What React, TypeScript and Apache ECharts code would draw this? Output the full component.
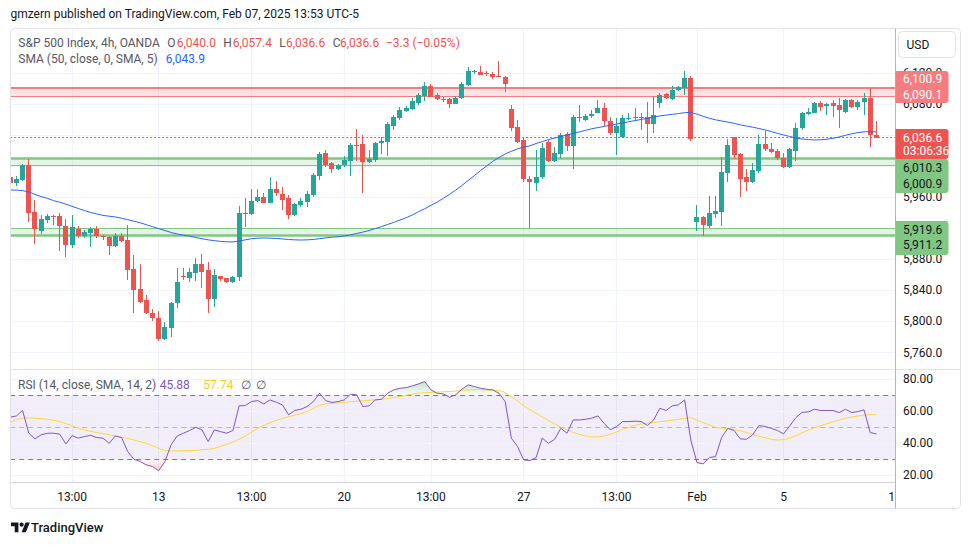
import React, { useEffect, useRef } from "react";
import * as echarts from "echarts";

// ---------- DATA (4h bars, index 0..140) ----------
const OPEN = [5986.0, 5977.7, 5982.0, 6001.3, 5941.3, 5916.8, 5930.5, 5936.2, 5935.3, 5922.8,
  5898.4, 5919.0, 5910.4, 5914.2, 5918.5, 5910.4, 5909.0, 5897.0, 5910.0, 5904.8,
  5867.5, 5841.7, 5827.6, 5811.3, 5804.0, 5777.0, 5792.0, 5823.3, 5858.0, 5856.4,
  5862.8, 5874.0, 5866.2, 5828.9, 5858.5, 5855.5, 5851.2, 5856.8, 5939.0, 5938.7,
  5955.0, 5960.6, 5952.9, 5970.5, 5964.0, 5958.9, 5937.0, 5949.9, 5953.8, 5963.2,
  5987.6, 6016.4, 6003.5, 5996.6, 6000.9, 6007.0, 6027.5, 6028.4, 6005.7, 6007.8,
  6029.2, 6031.4, 6052.0, 6062.3, 6071.3, 6073.4, 6080.7, 6090.2, 6103.0, 6091.5,
  6085.5, 6086.3, 6079.9, 6087.2, 6104.3, 6121.5, 6121.0, 6119.6, 6118.5, 6116.3,
  6115.0, 6073.4, 6050.7, 6033.5, 5982.9, 5978.6, 5985.5, 6031.4, 6007.0, 6015.5,
  6041.3, 6025.8, 6061.8, 6059.3, 6064.9, 6068.7, 6074.3, 6058.0, 6043.0, 6037.8,
  6061.0, 6062.0, 6062.5, 6062.7, 6054.1, 6081.6, 6092.7, 6086.3, 6097.9, 6100.0,
  6112.9, 5928.4, 5934.9, 5923.3, 5938.7, 5941.3, 5991.5, 6037.0, 6015.5, 5985.5,
  5979.9, 5994.0, 6028.4, 6022.0, 6019.4, 6010.0, 5998.4, 6019.8, 6048.6, 6067.0,
  6068.7, 6081.6, 6077.3, 6080.7, 6078.6, 6070.0, 6085.0, 6076.4, 6082.0, 6088.0,
  6040.0];
const HIGH = [5990.6, 5987.2, 6002.6, 6008.6, 5956.3, 5937.0, 5938.3, 5936.8, 5940.0, 5931.4,
  5937.0, 5922.8, 5917.7, 5921.0, 5922.8, 5910.8, 5910.0, 5913.4, 5913.4, 5923.7,
  5885.5, 5874.0, 5834.0, 5815.6, 5813.8, 5799.7, 5825.0, 5868.3, 5868.3, 5868.4,
  5881.3, 5886.8, 5877.0, 5867.5, 5858.5, 5856.0, 5858.5, 5948.6, 5958.5, 5970.0,
  5970.5, 5965.8, 5985.5, 5981.2, 5973.0, 5962.8, 5952.0, 5958.5, 5968.3, 5991.5,
  6018.5, 6020.7, 6005.7, 6002.6, 6013.0, 6029.3, 6047.7, 6040.0, 6020.7, 6031.4,
  6037.0, 6057.1, 6065.7, 6075.6, 6077.3, 6088.0, 6093.6, 6108.2, 6105.6, 6093.6,
  6089.3, 6087.2, 6090.2, 6108.2, 6127.9, 6123.6, 6128.8, 6122.3, 6121.5, 6135.2,
  6115.9, 6078.6, 6059.3, 6037.0, 5987.2, 6020.7, 6029.3, 6033.5, 6024.1, 6043.0,
  6044.0, 6065.7, 6078.6, 6067.0, 6072.2, 6085.0, 6080.7, 6063.6, 6061.4, 6065.7,
  6067.8, 6074.3, 6067.8, 6082.9, 6090.2, 6093.6, 6094.5, 6103.0, 6103.0, 6122.3,
  6115.9, 5949.9, 5936.0, 5961.5, 5961.5, 6011.2, 6034.8, 6037.0, 6017.0, 5996.2,
  6003.5, 6040.0, 6045.1, 6030.1, 6021.5, 6016.4, 6022.8, 6055.9, 6070.0, 6075.2,
  6082.5, 6084.2, 6080.7, 6085.0, 6087.2, 6085.9, 6086.3, 6085.0, 6093.6, 6100.0,
  6057.4];
const LOW = [5975.6, 5974.7, 5980.7, 5928.4, 5899.7, 5912.5, 5927.1, 5924.0, 5891.0, 5883.3,
  5895.0, 5907.0, 5907.0, 5895.4, 5907.0, 5905.0, 5885.5, 5896.0, 5902.7, 5853.3,
  5810.4, 5823.3, 5809.5, 5801.0, 5775.2, 5776.0, 5780.4, 5817.7, 5853.5, 5851.2,
  5852.5, 5842.6, 5811.3, 5818.2, 5852.5, 5850.0, 5849.1, 5852.5, 5922.0, 5937.0,
  5954.2, 5952.0, 5952.0, 5962.0, 5943.4, 5932.3, 5936.0, 5946.9, 5947.7, 5960.0,
  5982.0, 5998.4, 5990.6, 5994.9, 5999.0, 5987.6, 6007.0, 5964.9, 6004.4, 6005.7,
  6015.5, 6013.0, 6046.4, 6059.3, 6070.0, 6072.1, 6079.0, 6084.0, 6088.5, 6085.0,
  6082.9, 6075.2, 6079.4, 6085.9, 6103.0, 6118.5, 6117.2, 6115.9, 6112.5, 6114.2,
  6095.7, 6045.1, 6029.2, 5979.9, 5920.0, 5968.3, 5983.0, 6005.0, 6005.7, 6010.0,
  6019.8, 5996.2, 6057.1, 6058.0, 6061.4, 6067.8, 6052.0, 6040.0, 6014.2, 6035.7,
  6059.0, 6058.0, 6046.4, 6030.1, 6043.0, 6074.3, 6085.9, 6085.0, 6097.0, 6091.5,
  6032.7, 5916.4, 5910.0, 5919.9, 5933.6, 5923.3, 5979.9, 6009.1, 5960.6, 5968.3,
  5977.8, 5991.5, 6019.8, 6017.2, 6008.0, 5997.0, 5997.0, 6007.0, 6046.0, 6066.0,
  6068.0, 6071.3, 6065.7, 6063.6, 6048.6, 6068.0, 6075.0, 6072.2, 6065.7, 6024.1,
  6036.6];
const CLOSE = [5977.7, 5983.3, 6001.3, 5940.0, 5918.5, 5932.3, 5935.7, 5934.5, 5923.2, 5898.4,
  5922.0, 5910.4, 5915.5, 5918.5, 5910.0, 5908.2, 5897.0, 5910.0, 5904.0, 5866.2,
  5840.5, 5824.6, 5810.4, 5804.0, 5777.0, 5792.4, 5823.3, 5850.3, 5857.0, 5863.7,
  5874.0, 5863.7, 5828.9, 5859.8, 5854.6, 5850.4, 5857.2, 5939.6, 5939.9, 5955.0,
  5960.6, 5952.9, 5970.5, 5964.9, 5956.3, 5937.0, 5951.2, 5955.0, 5964.0, 5988.5,
  6015.5, 6000.9, 5996.2, 6000.9, 6007.8, 6027.1, 6026.5, 6005.7, 6008.7, 6029.2,
  6032.2, 6054.1, 6062.7, 6072.2, 6075.2, 6083.7, 6091.5, 6103.0, 6089.3, 6085.9,
  6086.5, 6080.3, 6088.0, 6105.6, 6122.3, 6122.0, 6117.6, 6119.0, 6115.0, 6114.2,
  6105.2, 6049.4, 6031.4, 5982.9, 5979.9, 5986.4, 6022.8, 6007.0, 6016.4, 6040.0,
  6025.8, 6063.6, 6063.2, 6064.4, 6067.4, 6075.2, 6058.4, 6043.0, 6052.0, 6061.4,
  6062.0, 6063.0, 6063.5, 6054.1, 6065.7, 6091.5, 6087.2, 6097.9, 6101.3, 6112.9,
  6034.4, 5934.9, 5924.1, 5939.2, 5942.2, 5992.8, 6027.1, 6014.2, 5983.3, 5979.9,
  5994.9, 6028.4, 6022.0, 6018.5, 6010.0, 5998.4, 6021.5, 6048.6, 6067.8, 6070.0,
  6081.6, 6076.4, 6079.4, 6077.7, 6072.2, 6085.0, 6076.4, 6082.0, 6088.0, 6040.0,
  6036.6];
const SMA50 = [5969.2, 5969.0, 5968.3, 5966.8, 5963.5, 5960.6, 5958.5, 5955.5, 5953.5, 5951.0,
  5948.2, 5945.3, 5942.8, 5940.2, 5938.4, 5936.5, 5935.4, 5934.5, 5932.8, 5931.0,
  5929.0, 5927.0, 5924.5, 5922.0, 5919.5, 5917.0, 5914.5, 5912.5, 5911.0, 5909.8,
  5908.0, 5906.5, 5905.0, 5904.0, 5903.0, 5902.5, 5902.3, 5903.5, 5905.0, 5906.5,
  5907.2, 5907.4, 5907.2, 5906.8, 5906.2, 5905.5, 5905.0, 5904.8, 5905.0, 5905.5,
  5906.5, 5907.5, 5908.5, 5909.0, 5910.0, 5911.5, 5913.2, 5915.0, 5917.0, 5919.5,
  5922.0, 5924.8, 5927.5, 5930.5, 5933.5, 5937.0, 5941.3, 5945.0, 5949.3, 5953.5,
  5958.5, 5963.5, 5969.0, 5975.0, 5981.2, 5987.5, 5994.0, 6000.0, 6006.0, 6011.0,
  6015.5, 6019.0, 6022.0, 6024.5, 6026.0, 6029.0, 6031.5, 6034.0, 6036.0, 6038.0,
  6040.0, 6042.0, 6044.0, 6046.0, 6048.0, 6049.5, 6051.0, 6052.5, 6054.0, 6055.5,
  6057.0, 6058.5, 6060.0, 6061.5, 6063.0, 6064.5, 6065.5, 6066.5, 6067.5, 6068.7,
  6069.0, 6066.8, 6064.0, 6061.5, 6059.5, 6058.0, 6056.5, 6055.0, 6053.0, 6051.5,
  6050.0, 6048.3, 6046.5, 6044.5, 6042.0, 6040.0, 6038.0, 6036.0, 6034.8, 6034.0,
  6033.6, 6033.8, 6034.5, 6035.7, 6037.5, 6039.5, 6041.5, 6043.0, 6044.0, 6044.3,
  6043.9];
const RSI14 = [56.3, 57.1, 60.5, 46.3, 42.8, 45.3, 46.3, 46.3, 45.7, 39.6,
  44.8, 43.2, 44.2, 45.0, 43.6, 43.2, 40.0, 44.6, 43.6, 34.8,
  30.0, 28.6, 26.5, 25.5, 22.8, 28.6, 39.0, 44.6, 46.3, 48.0,
  50.0, 48.4, 41.1, 48.4, 47.3, 46.3, 48.0, 63.4, 63.6, 66.1,
  66.7, 64.6, 67.1, 65.7, 64.0, 57.8, 60.5, 61.3, 63.0, 66.1,
  71.3, 66.7, 65.5, 66.1, 67.1, 70.7, 70.3, 63.0, 63.4, 67.1,
  67.5, 71.3, 73.4, 74.4, 74.8, 75.9, 77.1, 78.6, 73.4, 71.3,
  70.9, 68.8, 70.3, 73.8, 76.5, 75.5, 74.4, 73.8, 73.4, 71.3,
  66.1, 43.2, 38.0, 29.6, 29.2, 31.1, 43.2, 40.0, 42.5, 49.4,
  46.3, 54.6, 54.6, 55.0, 55.7, 57.1, 52.5, 48.4, 50.5, 53.6,
  53.6, 53.8, 53.6, 51.1, 54.6, 61.9, 60.5, 63.4, 64.0, 67.1,
  42.1, 28.0, 27.1, 31.1, 31.7, 43.8, 49.4, 48.0, 42.8, 42.5,
  45.3, 51.1, 50.5, 49.4, 48.0, 45.9, 50.9, 56.1, 59.4, 59.6,
  61.3, 60.5, 60.5, 60.5, 59.2, 61.3, 59.2, 59.8, 60.9, 46.7,
  45.88];
const RSI_MA = [53.0, 54.8, 55.7, 55.9, 55.7, 55.4, 55.0, 54.4, 53.6, 52.3,
  50.9, 49.6, 48.4, 47.5, 46.7, 46.0, 45.3, 44.5, 43.8, 43.0,
  42.1, 41.0, 40.0, 38.5, 36.9, 35.5, 35.2, 35.2, 35.4, 35.5,
  35.6, 36.0, 36.2, 36.8, 38.0, 39.4, 40.8, 42.6, 44.6, 47.0,
  49.3, 51.2, 52.8, 54.3, 55.5, 56.6, 57.6, 58.6, 60.0, 61.8,
  63.8, 64.6, 65.0, 65.3, 65.6, 66.0, 66.3, 66.6, 66.9, 67.2,
  67.5, 68.0, 68.6, 69.3, 70.0, 70.8, 71.3, 71.6, 71.8, 72.0,
  72.2, 72.4, 72.6, 73.0, 73.3, 73.5, 73.5, 73.4, 73.2, 73.0,
  71.8, 69.0, 66.5, 63.5, 61.0, 58.8, 56.5, 54.2, 52.2, 50.0,
  48.4, 46.8, 45.5, 44.6, 43.9, 44.0, 44.6, 45.6, 47.0, 48.8,
  50.0, 51.2, 52.0, 52.6, 53.1, 53.5, 53.9, 54.4, 55.0, 55.6,
  56.0, 54.5, 53.0, 51.5, 50.0, 49.5, 49.0, 48.5, 47.8, 46.8,
  45.5, 44.5, 43.5, 42.5, 42.0, 42.3, 43.2, 44.8, 46.6, 48.2,
  49.8, 51.0, 52.2, 53.4, 54.6, 55.6, 56.4, 57.1, 57.6, 57.9,
  57.74];

const SLOT_COUNT = 144; // bars + empty right margin slots
const TIME_LABELS: Record<number, string> = {
  10: "13:00", 24: "13", 39: "13:00", 54: "20", 68: "13:00",
  83: "27", 98: "13:00", 111: "Feb", 125: "5", 143: "10",
};
// price ticks whose labels are not covered by the price tags
const PRICE_TICKS = [5760, 5800, 5840, 5880, 5920, 5960, 6000, 6040, 6080, 6120];
const PRICE_LABELS_HIDDEN = [5920, 6000, 6040];
const RSI_TICKS = [20, 40, 60, 80];
const RESISTANCE = [6090.1, 6100.9];
const SUPPORT_HIGH = [6000.9, 6010.3];
const SUPPORT_LOW = [5911.2, 5919.6];
const LAST_OHLC = [6040.0, 6057.4, 6036.6, 6036.6];
const LAST_CHANGE = [-3.3, -0.05];
const SMA_LAST = 6043.9;
const RSI_LAST = [45.88, 57.74];
const COUNTDOWN = "03:06:36";

// ---------- STYLE ----------
const FONT = "Roboto, 'Noto Sans', sans-serif";
const UP = "#26a69a";
const DOWN = "#ef5350";
const GRID_COLOR = "#f0f3fa";
const TEXT = "#131722";
const MUTED = "#555862";
const GRID_LEFT = 10.2;
const SLOT = 6.187;
const GRID_W = SLOT * (SLOT_COUNT - 1);

const fmt = (v: number) => {
  const s = Math.abs(v).toFixed(1);
  const [a, b] = s.split(".");
  return (v < 0 ? "\u2212" : "") + a.replace(/\B(?=(\d{3})+(?!\d))/g, ",") + "." + b;
};

echarts.graphic.registerShape(
  "tvlogo",
  echarts.graphic.extendPath(
    "M14 22H7V11H0V4h14v18zM28 22h-8l7.5-18h8L28 22zM24 8a4 4 0 1 1-8 0a4 4 0 1 1 8 0z",
    {}
  ) as any
);

function renderCandle(_params: any, api: any) {
  const i = api.value(0);
  const o = api.value(1);
  const c = api.value(2);
  const l = api.value(3);
  const h = api.value(4);
  const po = api.coord([i, o]);
  const pc = api.coord([i, c]);
  const pl = api.coord([i, l]);
  const ph = api.coord([i, h]);
  const color = c >= o ? UP : DOWN;
  const cx = Math.round(po[0] - 0.5);
  const top = Math.round(Math.min(po[1], pc[1]));
  const bot = Math.round(Math.max(po[1], pc[1]));
  const bh = Math.max(bot - top, 1);
  return {
    type: "group",
    children: [
      { type: "rect", shape: { x: cx, y: Math.round(ph[1]), width: 1, height: Math.max(Math.round(pl[1]) - Math.round(ph[1]), 1) }, style: { fill: color } },
      { type: "rect", shape: { x: cx - 2, y: top, width: 5, height: bh }, style: { fill: color } },
    ],
  };
}

const txt = (x: number, y: number, text: string, fill: string, size = 12, weight: any = "normal") => ({
  type: "text",
  x,
  y,
  z: 100,
  silent: true,
  style: {
    text,
    fill,
    fontSize: size,
    fontFamily: FONT,
    fontWeight: weight,
    align: "left",
    verticalAlign: "middle",
  },
});

function buildOption() {
  const cats = Array.from({ length: SLOT_COUNT }, (_, i) => String(i));
  const isLabel = (idx: number) => Object.prototype.hasOwnProperty.call(TIME_LABELS, idx);
  const isGrid = (idx: number) => isLabel(idx) && idx < SLOT_COUNT - 1;

  const baseX = (gridIndex: number) => ({
    type: "category",
    gridIndex,
    data: cats,
    boundaryGap: false,
    axisLine: { show: false },
    axisTick: { show: false },
    axisLabel: { show: false },
    splitLine: { show: false },
    axisPointer: { show: false },
  });

  const candleData = OPEN.map((o, i) => [i, o, CLOSE[i], LOW[i], HIGH[i]]);
  const obBase = RSI14.map(() => 70);
  const obTop = RSI14.map((r) => Math.max(r, 70) - 70);
  const osBase = RSI14.map((r) => Math.min(r, 30));
  const osTop = RSI14.map((r) => 30 - Math.min(r, 30));

  const lvlLine = (v: number, color: string, width: number) => ({
    yAxis: v,
    lineStyle: { color, width, type: "solid" },
  });

  const showPriceLabel = (v: number) =>
    PRICE_TICKS.some((t) => Math.abs(t - v) < 0.01) && !PRICE_LABELS_HIDDEN.some((t) => Math.abs(t - v) < 0.01);

  return {
    animation: false,
    backgroundColor: "#ffffff",
    textStyle: { fontFamily: FONT },
    grid: [
      { left: GRID_LEFT, width: GRID_W, top: 28.5, height: 341 }, // price frame (vertical grid lines)
      { left: GRID_LEFT, width: GRID_W, top: 10.64, height: 372.96 }, // price scale 5720..6200
      { left: GRID_LEFT, width: GRID_W, top: 347.3, height: 160 }, // rsi scale 0..100
      { left: GRID_LEFT, width: GRID_W, top: 370, height: 112.7 }, // time axis + rsi vertical grid
    ],
    xAxis: [
      { ...baseX(0), splitLine: { show: true, interval: (i: number) => isGrid(i), lineStyle: { color: GRID_COLOR, width: 1 } } },
      baseX(1),
      baseX(2),
      {
        ...baseX(3),
        axisLine: { show: true, lineStyle: { color: "#d1d4dc", width: 1 } },
        axisLabel: {
          show: true,
          interval: (i: number) => isLabel(i),
          formatter: (_v: string, i: number) => TIME_LABELS[i] ?? "",
          color: TEXT,
          fontSize: 12,
          fontFamily: FONT,
          margin: 8,
        },
        splitLine: { show: true, interval: (i: number) => isGrid(i), lineStyle: { color: GRID_COLOR, width: 1 } },
      },
    ],
    yAxis: [
      { type: "value", gridIndex: 0, min: 0, max: 1, show: false },
      {
        type: "value",
        gridIndex: 1,
        position: "right",
        min: 5720,
        max: 6200,
        interval: 40,
        axisLine: { show: false },
        axisTick: { show: false },
        splitLine: { show: false },
        axisLabel: {
          color: TEXT,
          fontSize: 12,
          fontFamily: FONT,
          margin: 8,
          formatter: (v: number) => (showPriceLabel(v) ? fmt(v) : ""),
        },
      },
      {
        type: "value",
        gridIndex: 2,
        position: "right",
        min: 0,
        max: 100,
        interval: 20,
        axisLine: { show: false },
        axisTick: { show: false },
        splitLine: { show: false },
        axisLabel: {
          color: TEXT,
          fontSize: 12,
          fontFamily: FONT,
          margin: 8,
          formatter: (v: number) => (RSI_TICKS.some((t) => Math.abs(t - v) < 0.01) ? v.toFixed(2) : ""),
        },
      },
      { type: "value", gridIndex: 3, min: 0, max: 1, show: false },
    ],
    series: [
      // price horizontal grid lines
      {
        type: "line",
        xAxisIndex: 1,
        yAxisIndex: 1,
        data: [],
        silent: true,
        markLine: {
          silent: true,
          symbol: ["none", "none"],
          label: { show: false },
          lineStyle: { color: GRID_COLOR, width: 1, type: "solid" },
          data: PRICE_TICKS.map((v) => ({ yAxis: v })),
        },
      },
      // support / resistance zones
      {
        type: "line",
        xAxisIndex: 1,
        yAxisIndex: 1,
        data: [],
        silent: true,
        markArea: {
          silent: true,
          data: [
            [{ yAxis: RESISTANCE[0], itemStyle: { color: "rgba(247,124,128,0.22)" } }, { yAxis: RESISTANCE[1] }],
            [{ yAxis: SUPPORT_HIGH[0], itemStyle: { color: "rgba(129,199,132,0.2)" } }, { yAxis: SUPPORT_HIGH[1] }],
            [{ yAxis: SUPPORT_LOW[0], itemStyle: { color: "rgba(129,199,132,0.2)" } }, { yAxis: SUPPORT_LOW[1] }],
          ],
        },
        markLine: {
          silent: true,
          symbol: ["none", "none"],
          label: { show: false },
          data: [
            lvlLine(RESISTANCE[1], "#f77c80", 2),
            lvlLine(RESISTANCE[0], "#f77c80", 1),
            lvlLine(SUPPORT_HIGH[1], "#81c784", 2.5),
            lvlLine(SUPPORT_HIGH[0], "#81c784", 1),
            lvlLine(SUPPORT_LOW[1], "#81c784", 1),
            lvlLine(SUPPORT_LOW[0], "#81c784", 2.5),
            { yAxis: LAST_OHLC[3], lineStyle: { color: "#ef5350", width: 1, type: [2, 2] } },
          ],
        },
      },
      {
        type: "custom",
        name: "S&P 500",
        xAxisIndex: 1,
        yAxisIndex: 1,
        data: candleData,
        encode: { x: 0, y: [1, 2, 3, 4] },
        renderItem: renderCandle,
        clip: true,
        z: 10,
      },
      {
        type: "line",
        name: "SMA 50",
        xAxisIndex: 1,
        yAxisIndex: 1,
        data: SMA50,
        symbol: "none",
        lineStyle: { color: "#2962ff", width: 1 },
        z: 11,
      },
      // RSI background & levels
      {
        type: "line",
        xAxisIndex: 2,
        yAxisIndex: 2,
        data: [],
        silent: true,
        markArea: {
          silent: true,
          data: [[{ yAxis: 30, itemStyle: { color: "rgba(126,87,194,0.1)" } }, { yAxis: 70 }]],
        },
        markLine: {
          silent: true,
          symbol: ["none", "none"],
          label: { show: false },
          data: [
            ...RSI_TICKS.map((v) => ({ yAxis: v, lineStyle: { color: GRID_COLOR, width: 1, type: "solid" } })),
            { yAxis: 70, lineStyle: { color: "#787b86", width: 1, type: [5, 4] } },
            { yAxis: 50, lineStyle: { color: "rgba(120,123,134,0.5)", width: 1, type: [5, 4] } },
            { yAxis: 30, lineStyle: { color: "#787b86", width: 1, type: [5, 4] } },
          ],
        },
      },
      { type: "line", xAxisIndex: 2, yAxisIndex: 2, stack: "ob", data: obBase, symbol: "none", lineStyle: { width: 0, opacity: 0 }, z: 6, silent: true },
      {
        type: "line", xAxisIndex: 2, yAxisIndex: 2, stack: "ob", data: obTop, symbol: "none", lineStyle: { width: 0, opacity: 0 }, z: 6, silent: true,
        areaStyle: { color: new echarts.graphic.LinearGradient(0, 0, 0, 1, [{ offset: 0, color: "rgba(76,175,80,0.45)" }, { offset: 1, color: "rgba(76,175,80,0.05)" }]) },
      },
      { type: "line", xAxisIndex: 2, yAxisIndex: 2, stack: "os", data: osBase, symbol: "none", lineStyle: { width: 0, opacity: 0 }, z: 6, silent: true },
      {
        type: "line", xAxisIndex: 2, yAxisIndex: 2, stack: "os", data: osTop, symbol: "none", lineStyle: { width: 0, opacity: 0 }, z: 6, silent: true,
        areaStyle: { color: new echarts.graphic.LinearGradient(0, 0, 0, 1, [{ offset: 0, color: "rgba(255,82,82,0.05)" }, { offset: 1, color: "rgba(255,82,82,0.4)" }]) },
      },
      { type: "line", name: "RSI MA", xAxisIndex: 2, yAxisIndex: 2, data: RSI_MA, symbol: "none", lineStyle: { color: "#fdd835", width: 1 }, z: 7 },
      { type: "line", name: "RSI", xAxisIndex: 2, yAxisIndex: 2, data: RSI14, symbol: "none", lineStyle: { color: "#7e57c2", width: 1 }, z: 8 },
    ],
    graphic: [
      // frame & separators
      { type: "rect", z: 90, silent: true, shape: { x: 10.5, y: 28.5, width: 950, height: 480, r: 4 }, style: { fill: "none", stroke: "#e0e3eb", lineWidth: 1 } },
      { type: "line", z: 90, silent: true, shape: { x1: 10.5, y1: 369.5, x2: 960, y2: 369.5 }, style: { stroke: "#e0e3eb", lineWidth: 1 } },
      { type: "rect", z: 95, silent: true, shape: { x: 895.5, y: 484, width: 64, height: 23 }, style: { fill: "#ffffff" } },
      { type: "line", z: 96, silent: true, shape: { x1: 895.5, y1: 28.5, x2: 895.5, y2: 508.5 }, style: { stroke: "#b2b5be", lineWidth: 1 } },
      // USD button
      { type: "rect", z: 100, silent: true, shape: { x: 898.5, y: 31.5, width: 57, height: 26, r: 4 }, style: { fill: "#ffffff", stroke: "#e0e3eb", lineWidth: 1 } },
      txt(906.5, 44.5, "USD", TEXT, 12),
      // price tags
      { type: "rect", z: 99, silent: true, shape: { x: 895.5, y: 71, width: 53, height: 32, r: [0, 3, 3, 0] }, style: { fill: "#f77c80" } },
      txt(903, 79, fmt(RESISTANCE[1]), "#ffffff", 12),
      txt(903, 95, fmt(RESISTANCE[0]), "#ffffff", 12),
      { type: "rect", z: 99, silent: true, shape: { x: 895.5, y: 129, width: 53, height: 30, r: [0, 3, 3, 0] }, style: { fill: "#ef5350" } },
      txt(903, 137.5, fmt(LAST_OHLC[3]), "#ffffff", 12),
      txt(903, 150.5, COUNTDOWN, "#ffffff", 12),
      { type: "rect", z: 99, silent: true, shape: { x: 895.5, y: 159, width: 53, height: 34, r: [0, 3, 3, 0] }, style: { fill: "#81c784" } },
      txt(903, 168, fmt(SUPPORT_HIGH[1]), TEXT, 12),
      txt(903, 184, fmt(SUPPORT_HIGH[0]), TEXT, 12),
      { type: "rect", z: 99, silent: true, shape: { x: 895.5, y: 221, width: 53, height: 34, r: [0, 3, 3, 0] }, style: { fill: "#81c784" } },
      txt(903, 229.5, fmt(SUPPORT_LOW[1]), TEXT, 12),
      txt(903, 244.5, fmt(SUPPORT_LOW[0]), TEXT, 12),
      // header
      txt(10.5, 14, "gmzern published on TradingView.com, Feb 07, 2025 13:53 UTC-5", TEXT, 12),
      // legend line 1
      txt(18.3, 42.5, "S&P 500 Index, 4h, OANDA", MUTED, 12),
      txt(167.3, 42.5, "O", MUTED, 12),
      txt(176.7, 42.5, fmt(LAST_OHLC[0]), DOWN, 12),
      txt(223.3, 42.5, "H", MUTED, 12),
      txt(232.7, 42.5, fmt(LAST_OHLC[1]), DOWN, 12),
      txt(279.3, 42.5, "L", MUTED, 12),
      txt(286, 42.5, fmt(LAST_OHLC[2]), DOWN, 12),
      txt(332.7, 42.5, "C", MUTED, 12),
      txt(340, 42.5, fmt(LAST_OHLC[3]), DOWN, 12),
      txt(386, 42.5, `${fmt(LAST_CHANGE[0])} (\u2212${Math.abs(LAST_CHANGE[1]).toFixed(2)}%)`, DOWN, 12),
      // legend line 2
      txt(18.3, 59, "SMA (50, close, 0, SMA, 5)", MUTED, 12),
      txt(165.7, 59, fmt(SMA_LAST), "#2962ff", 12),
      // RSI legend
      txt(18, 385, "RSI (14, close, SMA, 14, 2)", MUTED, 12),
      txt(159.7, 385, RSI_LAST[0].toFixed(2), "#7e57c2", 12),
      txt(203.3, 385, RSI_LAST[1].toFixed(2), "#f2cf1d", 12),
      txt(241, 385, "\u2205", MUTED, 12),
      txt(256, 385, "\u2205", MUTED, 12),
      // footer logo
      { type: "tvlogo", z: 100, silent: true, x: 11, y: 520.5, scaleX: 0.53, scaleY: 0.53, style: { fill: TEXT } },
      txt(31, 527, "TradingView", TEXT, 13, 500),
    ],
  };
}

export default function App() {
  const ref = useRef<HTMLDivElement>(null);
  useEffect(() => {
    if (!ref.current) return;
    const chart = echarts.init(ref.current, undefined, { renderer: "svg" });
    chart.setOption(buildOption() as any);
    return () => chart.dispose();
  }, []);
  return (
    <div
      ref={ref}
      style={{ position: "absolute", left: 0, top: 0, width: 970, height: 545, background: "#ffffff" }}
    />
  );
}
